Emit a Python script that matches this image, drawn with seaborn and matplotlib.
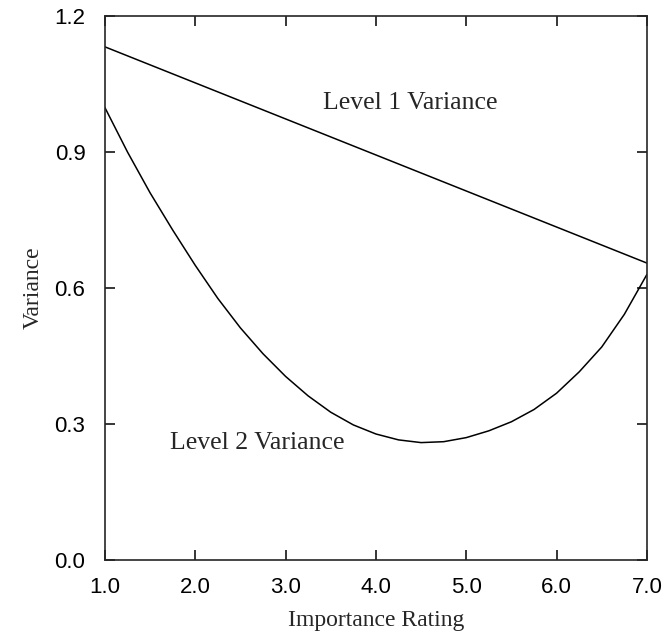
import pandas as pd
import matplotlib
matplotlib.use("Agg")
import matplotlib.pyplot as plt
import seaborn as sns

# values
level1_x = [1.0, 7.0]
level1_var = [1.132, 0.655]

level2_x = [1.0, 1.25, 1.5, 1.75, 2.0, 2.25, 2.5, 2.75, 3.0, 3.25, 3.5, 3.75,
            4.0, 4.25, 4.5, 4.75, 5.0, 5.25, 5.5, 5.75, 6.0, 6.25, 6.5, 6.75, 7.0]
level2_var = [0.998, 0.9, 0.81, 0.728, 0.65, 0.577, 0.512, 0.455, 0.405, 0.362,
              0.326, 0.298, 0.278, 0.265, 0.259, 0.261, 0.27, 0.285, 0.305, 0.332,
              0.368, 0.415, 0.47, 0.542, 0.63]

x_ticks = [1.0, 2.0, 3.0, 4.0, 5.0, 6.0, 7.0]
y_ticks = [0.0, 0.3, 0.6, 0.9, 1.2]

df1 = pd.DataFrame({"rating": level1_x, "variance": level1_var})
df2 = pd.DataFrame({"rating": level2_x, "variance": level2_var})

sns.set_style("ticks")
plt.rcParams["font.family"] = ["Liberation Sans", "DejaVu Sans"]

fig = plt.figure(figsize=(6.64, 6.33), dpi=100)
ax = fig.add_axes([0.158, 0.1153, 0.8163, 0.8594])

sns.lineplot(data=df1, x="rating", y="variance", color="black", linewidth=1.1, ax=ax)
sns.lineplot(data=df2, x="rating", y="variance", color="black", linewidth=1.1, ax=ax)

ax.set_xlim(1.0, 7.0)
ax.set_ylim(0.0, 1.2)
ax.set_xticks(x_ticks)
ax.set_yticks(y_ticks)
ax.set_xticklabels([f"{v:.1f}" for v in x_ticks], fontsize=16)
ax.set_yticklabels([f"{v:.1f}" for v in y_ticks], fontsize=16)
ax.tick_params(direction="in", top=True, right=True, length=7, width=1.1,
               colors="black")
ax.tick_params(axis="y", pad=14)
ax.tick_params(axis="x", pad=12)
for s in ax.spines.values():
    s.set_linewidth(1.2)
    s.set_visible(True)

serif = ["Liberation Serif", "DejaVu Serif"]
ax.set_xlabel("Importance Rating", fontsize=17, family=serif, labelpad=9)
ax.set_ylabel("Variance", fontsize=17, family=serif, labelpad=8)

ax.text(3.41, 1.008, "Level 1 Variance", fontsize=18.5, family=serif,
        ha="left", va="center")
ax.text(1.72, 0.258, "Level 2 Variance", fontsize=18.5, family=serif,
        ha="left", va="center")

fig.savefig("out.png", dpi=100)
